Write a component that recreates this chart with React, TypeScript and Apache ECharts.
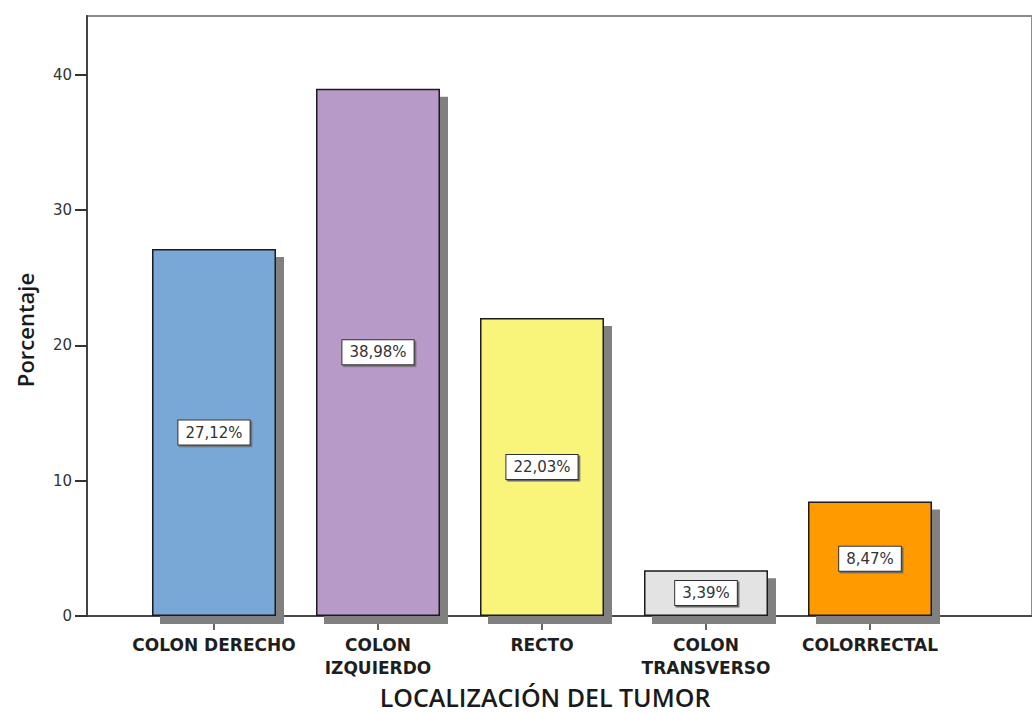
import React, { useEffect, useRef } from "react";
import * as echarts from "echarts";

// Tumour location categories and their percentages
const categories = [
  "COLON DERECHO",
  "COLON\nIZQUIERDO",
  "RECTO",
  "COLON\nTRANSVERSO",
  "COLORRECTAL",
];
const percentages = [27.12, 38.98, 22.03, 3.39, 8.47];
const barColors = ["#7aa8d6", "#b89ac8", "#f8f57a", "#e3e3e3", "#ff9a00"];
const yTicks = [0, 10, 20, 30, 40];

const Y_MAX = 44.35;

export default function App() {
  const ref = useRef<HTMLDivElement>(null);

  useEffect(() => {
    if (!ref.current) return;
    const chart = echarts.init(ref.current, null, { renderer: "svg" });

    const fmt = (v: number) => v.toFixed(2).replace(".", ",") + "%";

    chart.setOption({
      animation: false,
      backgroundColor: "#ffffff",
      grid: [
        // frame: left axis, bottom axis and the grey top border
        {
          left: 87,
          top: 16,
          right: -3,
          height: 600,
          show: true,
          borderColor: "#8c8c8c",
          borderWidth: 2,
          backgroundColor: "transparent",
        },
        // bars
        { left: 132, top: 16, width: 820, height: 600 },
      ],
      xAxis: [
        {
          gridIndex: 0,
          type: "value",
          min: 0,
          max: 1,
          axisLine: { show: true, lineStyle: { color: "#333", width: 1.5 } },
          axisTick: { show: false },
          axisLabel: { show: false },
          splitLine: { show: false },
        },
        {
          gridIndex: 1,
          type: "category",
          data: categories,
          axisLine: { show: false },
          axisTick: {
            show: true,
            alignWithLabel: true,
            length: 14,
            lineStyle: { color: "#333", width: 1.5 },
          },
          axisLabel: {
            interval: 0,
            hideOverlap: false,
            margin: 17,
            fontFamily: "DejaVu Sans",
            fontWeight: "bold",
            fontSize: 17,
            lineHeight: 23,
            color: "#1e1e1e",
          },
          splitLine: { show: false },
        },
      ],
      yAxis: [
        {
          gridIndex: 0,
          type: "value",
          min: 0,
          max: Y_MAX,
          interval: 10,
          axisLine: { show: true, lineStyle: { color: "#444", width: 2 } },
          axisTick: {
            show: true,
            length: 12,
            customValues: yTicks,
            lineStyle: { color: "#333", width: 2 },
          },
          axisLabel: {
            customValues: yTicks,
            margin: 15,
            fontFamily: "DejaVu Sans",
            fontSize: 15,
            color: "#333",
          },
          splitLine: { show: false },
        },
        {
          gridIndex: 1,
          type: "value",
          min: 0,
          max: Y_MAX,
          show: false,
          splitLine: { show: false },
        },
      ],
      series: [
        {
          type: "bar",
          xAxisIndex: 1,
          yAxisIndex: 1,
          barWidth: 124,
          z: 3,
          data: percentages.map((v, i) => ({
            value: v,
            itemStyle: { color: barColors[i] },
          })),
          itemStyle: {
            borderColor: "#1a1a1a",
            borderWidth: 1.5,
            shadowColor: "#808080",
            shadowBlur: 0,
            shadowOffsetX: 8,
            shadowOffsetY: 8,
          },
          label: {
            show: true,
            position: "inside",
            formatter: (p: any) => fmt(p.value),
            fontFamily: "DejaVu Sans",
            fontSize: 15,
            color: "#333",
            backgroundColor: "#ffffff",
            borderColor: "#333",
            borderWidth: 1,
            padding: [5, 7, 4, 7],
            shadowColor: "#666",
            shadowOffsetX: 1.5,
            shadowOffsetY: 1.5,
            shadowBlur: 0,
          },
        },
      ],
      graphic: [
        {
          type: "text",
          x: 25,
          y: 330,
          rotation: Math.PI / 2,
          style: {
            text: "Porcentaje",
            fontFamily: "Open Sans",
            fontWeight: 600,
            fontSize: 22,
            fill: "#1a1a1a",
            align: "center",
            verticalAlign: "middle",
          },
        },
        {
          type: "text",
          x: 545,
          y: 697,
          style: {
            text: "LOCALIZACIÓN DEL TUMOR",
            fontFamily: "Open Sans",
            fontWeight: 600,
            fontSize: 25,
            fill: "#1a1a1a",
            align: "center",
            verticalAlign: "middle",
          },
        },
      ],
    });

    return () => chart.dispose();
  }, []);

  return (
    <div
      ref={ref}
      style={{ position: "fixed", left: 0, top: 0, width: 1032, height: 713 }}
    />
  );
}
